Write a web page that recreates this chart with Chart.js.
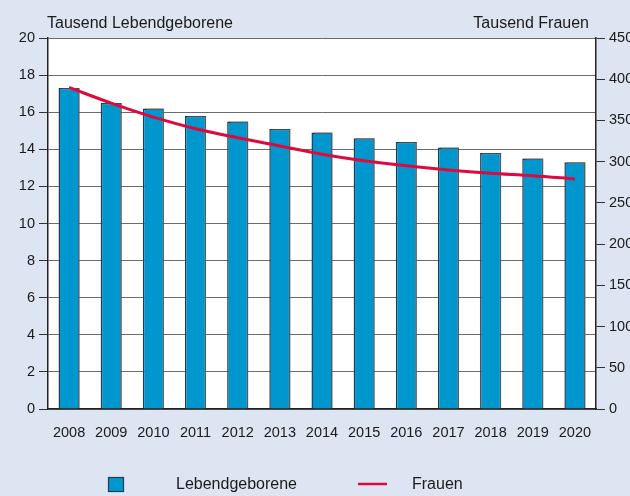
<!DOCTYPE html>
<html>
<head>
<meta charset="utf-8">
<script src="https://cdn.jsdelivr.net/npm/chart.js@4"></script>
<style>
  html, body { margin: 0; padding: 0; background: #dde5f2; }
  canvas { display: block; }
</style>
</head>
<body>
<canvas id="chart" width="630" height="496"></canvas>
<script>
// Data
const years = ['2008', '2009', '2010', '2011', '2012', '2013', '2014', '2015', '2016', '2017', '2018', '2019', '2020'];
const births = [17.3, 16.5, 16.2, 15.8, 15.5, 15.1, 14.9, 14.6, 14.4, 14.1, 13.8, 13.5, 13.3];
const women = [390, 371, 354, 340, 329, 319, 309, 301, 295, 290, 286, 283, 279];
const leftTitle = 'Tausend Lebendgeborene';
const rightTitle = 'Tausend Frauen';

const FONT = '"Liberation Sans", Arial, sans-serif';
const BAR_COLOR = '#0097cf';
const BAR_BORDER = '#1d3c56';
const LINE_COLOR = '#de0a3e';

Chart.defaults.font.family = FONT;
Chart.defaults.font.size = 14.5;
Chart.defaults.color = '#1a1a1a';

// white plot background + axis titles + legend
const decor = {
  id: 'decor',
  beforeDraw(chart) {
    const { ctx, chartArea: a } = chart;
    ctx.save();
    ctx.fillStyle = '#ffffff';
    ctx.fillRect(a.left, a.top, a.right - a.left, a.bottom - a.top);
    ctx.restore();
  },
  beforeDatasetDraw(chart, args) {
    if (args.index === 0) {
      const ctx = chart.ctx;
      ctx.save();
      ctx.shadowColor = 'rgba(120,120,120,0.55)';
      ctx.shadowOffsetX = 2;
      ctx.shadowOffsetY = -1;
      ctx.shadowBlur = 0;
    }
  },
  afterDatasetDraw(chart, args) {
    if (args.index === 0) chart.ctx.restore();
  },
  afterDraw(chart) {
    const { ctx } = chart;
    ctx.save();
    ctx.font = '16px ' + FONT;
    ctx.fillStyle = '#1a1a1a';
    ctx.textBaseline = 'alphabetic';
    ctx.textAlign = 'left';
    ctx.fillText(leftTitle, 47, 28);
    ctx.textAlign = 'right';
    ctx.fillText(rightTitle, 589, 28);

    // legend
    const ds = chart.data.datasets;
    ctx.fillStyle = BAR_COLOR;
    ctx.fillRect(108.5, 477.5, 15, 14);
    ctx.strokeStyle = BAR_BORDER;
    ctx.lineWidth = 1.2;
    ctx.strokeRect(108.5, 477.5, 15, 14);
    ctx.strokeStyle = LINE_COLOR;
    ctx.lineWidth = 2.5;
    ctx.beginPath();
    ctx.moveTo(358, 484);
    ctx.lineTo(387, 484);
    ctx.stroke();
    ctx.fillStyle = '#1a1a1a';
    ctx.textAlign = 'left';
    ctx.textBaseline = 'middle';
    ctx.fillText(ds[0].label, 176, 485);
    ctx.fillText(ds[1].label, 412, 485);
    ctx.restore();
  }
};

const ctx = document.getElementById('chart').getContext('2d');
const chart = new Chart(ctx, {
  type: 'bar',
  data: {
    labels: years,
    datasets: [{
      label: 'Lebendgeborene',
      data: births,
      yAxisID: 'y',
      backgroundColor: BAR_COLOR,
      borderColor: BAR_BORDER,
      borderWidth: 1.5,
      barPercentage: 0.5,
      categoryPercentage: 1,
      order: 2
    }, {
      label: 'Frauen',
      type: 'line',
      data: women,
      yAxisID: 'y1',
      borderColor: LINE_COLOR,
      borderWidth: 3,
      pointRadius: 0,
      tension: 0.4,
      cubicInterpolationMode: 'monotone',
      fill: false,
      order: 1
    }]
  },
  options: {
    responsive: false,
    animation: false,
    layout: { padding: { top: 38, left: 0, right: 0, bottom: 0 } },
    plugins: {
      legend: { display: false },
      tooltip: { enabled: false }
    },
    scales: {
      x: {
        afterFit(s) { s.height = 87; },
        grid: { display: true, drawOnChartArea: false, drawTicks: false },
        border: { display: true, color: '#222', width: 1.5 },
        ticks: { padding: 15, color: '#1a1a1a', maxRotation: 0, autoSkip: false }
      },
      y: {
        position: 'left',
        min: 0,
        max: 20,
        afterFit(s) { s.width = 48; },
        ticks: { stepSize: 2, padding: 4, color: '#1a1a1a' },
        grid: { color: '#6b6b6b', lineWidth: 1, tickLength: 9, tickColor: '#333' },
        border: { display: true, color: '#222', width: 1.5 }
      },
      y1: {
        position: 'right',
        min: 0,
        max: 450,
        afterFit(s) { s.width = 34; },
        ticks: { stepSize: 50, padding: 4, color: '#1a1a1a' },
        grid: { drawOnChartArea: false, tickLength: 9, tickColor: '#333' },
        border: { display: true, color: '#222', width: 1.5 }
      }
    }
  },
  plugins: [decor]
});
</script>
</body>
</html>
